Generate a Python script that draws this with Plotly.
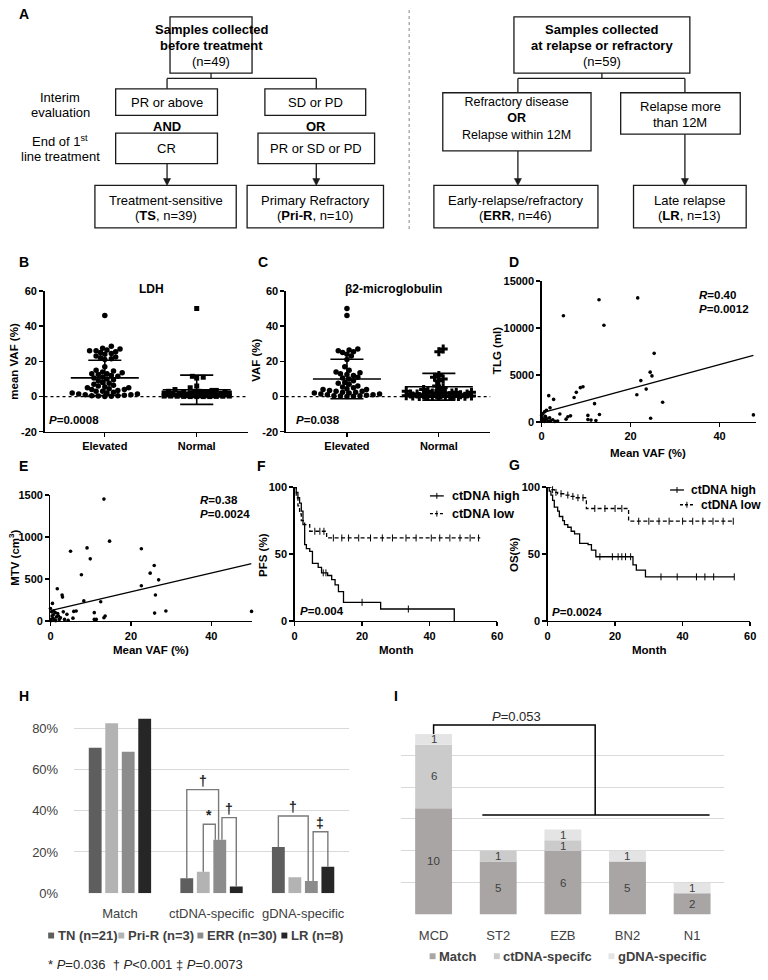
import plotly.graph_objects as go

W, H = 768, 980
FONT = "Liberation Sans, Arial, sans-serif"


def X(px):
    return px / W


def Y(py):
    return 1 - py / H


# ======================= DATA =======================
# Panel B : LDH
b_categories = ["Elevated", "Normal"]
b_elevated = [46, 28.5, 27.5, 27, 26.5, 26, 26, 25.5, 25, 24.5, 24, 23, 22.5, 22, 21.5, 21,
              17, 15, 14.5, 14, 13.5, 13, 13, 12.5, 12, 11.5, 11, 10.5, 10, 9.5, 9, 8, 7.5,
              7, 6.5, 6, 5.5, 5, 5, 4.5, 4, 4, 3.5, 3, 3, 2.5, 2, 2, 1.5, 1.5, 1, 1, 0.8,
              0.5, 0.5, 0.3, 0.2, 0.1]
b_normal = [50, 11.5, 11, 10.5, 6, 5, 4, 3.5, 3.5, 3, 3, 3, 2.8, 2.5, 2.5, 2.5, 2.2, 2, 2, 2,
            2, 1.8, 1.5, 1.5, 1.5, 1.5, 1.2, 1, 1, 1, 1, 1, 0.8, 0.8, 0.5, 0.5, 0.5, 0.5,
            0.5, 0.3, 0.3, 0.3, 0.2, 0.2, 0.1, 0.1, 0, 0, 0, 0]
b_mean = [10.6, 3.9]
b_sd = [10.0, 8.3]

# Panel C : beta2-microglobulin
c_categories = ["Elevated", "Normal"]
c_elevated = [50, 46, 27, 26.5, 26, 25.5, 25, 24, 23, 21, 17, 15, 14, 13.5, 13, 12.5, 12, 11,
              10.5, 10, 9, 8, 7.5, 7, 6, 5.5, 5, 4.5, 4, 4, 3.5, 3, 3, 2.5, 2.5, 2, 2, 1.5,
              1.5, 1, 1, 0.8, 0.5, 0.5, 0.3, 0.2, 0]
c_normal = [27, 25.5, 12, 11, 10, 9, 6, 5, 4, 3.5, 3, 3, 2.5, 2.5, 2, 2, 2, 1.5, 1.5, 1.5,
            1, 1, 1, 1, 0.8, 0.5, 0.5, 0.5, 0.3, 0.3, 0.2, 0.1, 0, 0, 0, 0, 0, 0]
c_mean = [10.0, 5.6]
c_sd = [11.2, 7.6]

# Panel D : TLG vs mean VAF
d_vaf = [4.9, 12.9, 21.6, 14.0, 25.3, 24.4, 24.8, 22.3, 23.5, 21.4, 27.2, 24.5, 47.6, 9.3,
         8.7, 7.8, 7.3, 1.6, 2.7, 1.9, 1.1, 0.7, 11.9, 4.1, 5.9, 5.5, 10.4, 13.0, 10.4, 11.1,
         12.2, 3.6, 2.5, 0.9, 0.2, 0.4, 0.6, 0.8, 1.0, 1.5, 0.3, 0.1, 0.5, 1.2, 2.0, 3.0,
         0.0, 0.0, 1.8, 6.5]
d_tlg = [11300, 13000, 13200, 10300, 7300, 5300, 4900, 4400, 3500, 2900, 2100, 400, 750,
         3750, 3650, 3150, 2600, 2800, 2400, 1500, 1250, 1100, 1950, 850, 550, 300, 700,
         800, 250, 200, 150, 100, 230, 560, 100, 300, 50, 600, 200, 80, 900, 400, 150, 350,
         120, 60, 200, 700, 450, 650]
d_fit_x = [0, 47.6]
d_fit_y = [970, 7080]
d_yticks = [0, 5000, 10000, 15000]

# Panel E : MTV vs mean VAF
e_vaf = [13.3, 14.7, 5.0, 9.1, 9.9, 22.6, 7.7, 25.8, 24.8, 26.9, 22.6, 26.1, 8.3, 12.5, 1.7,
         2.9, 3.0, 0.5, 25.9, 28.7, 50.0, 10.9, 13.6, 13.3, 10.9, 11.4, 5.8, 4.1, 3.2, 5.6,
         4.4, 2.5, 0.3, 0.8, 1.2, 1.5, 0.2, 0.6, 1.0, 2.0, 3.5, 0.1, 0.4, 0.9, 1.8, 6.4, 0.0,
         2.2, 1.3, 0.7]
e_mtv = [1450, 950, 830, 870, 740, 860, 550, 660, 570, 490, 420, 310, 240, 230, 385, 310,
         285, 210, 95, 120, 115, 100, 60, 40, 20, 20, 115, 80, 110, 35, 10, 40, 110, 120,
         100, 50, 20, 30, 10, 60, 20, 5, 60, 25, 90, 120, 150, 20, 5, 75]
e_fit_x = [0, 50]
e_fit_y = [124, 684]
e_yticks = [0, 500, 1000, 1500]

# Panel F : PFS
f_high_t = [0, 0.5, 1, 1.5, 2, 2.5, 3, 3.5, 4.5, 5.3, 7, 8, 9.8, 11, 12, 13, 14.5, 25.5, 47.3]
f_high_s = [100, 96, 92, 88, 82, 72, 57, 54, 52, 43, 40, 36, 34, 31, 27, 22, 14, 9, 0]
f_high_cens = [8.5, 9.3, 20, 33.7]
f_low_t = [0, 0.5, 1, 1.5, 2, 3, 4.5, 9.5, 55]
f_low_s = [100, 92, 86, 80, 75, 72, 67, 62, 62]
f_low_cens = [6, 7.5, 8.7, 11.5, 14, 16, 19, 22.5, 26, 29, 33, 36, 40.5, 43, 46, 49, 52, 54.5]

# Panel G : OS
g_high_t = [0, 0.5, 1, 1.5, 2, 3, 3.5, 4.5, 5, 6, 7, 8, 9.5, 12, 13, 14.3, 25.3, 26.3, 29, 55.3]
g_high_s = [100, 97, 94, 90, 85, 82, 78, 75, 72, 70, 67, 65, 58, 57, 53, 48, 42, 38, 33, 33]
g_high_cens = [15.5, 19.2, 20.9, 22, 23.1, 24.6, 33.6, 38.4, 44.1, 46.6, 49.2, 55.3]
g_low_t = [0, 1, 2, 3, 5, 7, 8.5, 11.5, 24, 55.3]
g_low_s = [100, 98, 96, 95, 94, 93, 92, 84, 74.5, 74.5]
g_low_cens = [1.5, 2.5, 4, 6, 7.5, 9, 10.5, 14, 17, 20, 22, 27, 30, 33, 36, 40, 43, 46, 49,
              52, 55]

# Panel H : mutation concordance by group
h_categories = ["Match", "ctDNA-specific", "gDNA-specific"]
h_series = ["TN (n=21)", "Pri-R (n=3)", "ERR (n=30)", "LR (n=8)"]
h_tn = [0.707, 0.072, 0.224]
h_prir = [0.826, 0.104, 0.077]
h_err = [0.687, 0.259, 0.059]
h_lr = [0.847, 0.032, 0.128]
h_ticks = [0, 0.2, 0.4, 0.6, 0.8]
h_footnote = "* <i>P</i>=0.036  † <i>P</i><0.001 ‡ <i>P</i>=0.0073"

# Panel I : LymphGen subtypes
i_categories = ["MCD", "ST2", "EZB", "BN2", "N1"]
i_series = ["Match", "ctDNA-specifc", "gDNA-specific"]
i_match = [10, 5, 6, 5, 2]
i_ctdna = [6, 1, 1, 0, 0]
i_gdna = [1, 0, 1, 1, 1]
i_pvalue = "<i>P</i>=0.053"

# ======================= STYLE =======================
shapes = []
annotations = []
LINE = "#1a1a1a"


def ann(px, py, text, size=13, bold=False, xanchor="center", color="black", angle=0):
    if bold:
        text = "<b>" + text + "</b>"
    annotations.append(dict(x=X(px), y=Y(py), xref="paper", yref="paper", text=text,
                            showarrow=False, xanchor=xanchor, yanchor="middle",
                            textangle=angle, borderpad=0,
                            font=dict(family=FONT, size=size, color=color)))


def pline(x0, y0, x1, y1, color=LINE, width=1.3, dash=None):
    d = dict(type="line", xref="paper", yref="paper", x0=X(x0), y0=Y(y0), x1=X(x1), y1=Y(y1),
             line=dict(color=color, width=width))
    if dash:
        d["line"]["dash"] = dash
    shapes.append(d)


def prect(x0, y0, x1, y1, line_color=LINE, fill=None, width=1.3):
    d = dict(type="rect", xref="paper", yref="paper", x0=X(x0), y0=Y(y1), x1=X(x1), y1=Y(y0),
             line=dict(color=line_color, width=width))
    if fill:
        d["fillcolor"] = fill
    shapes.append(d)


def parrow(x, y0, y1):
    pline(x, y0, x, y1 - 6)
    shapes.append(dict(type="path", xref="paper", yref="paper",
                       path=f"M {X(x-3.6)},{Y(y1-7)} L {X(x+3.6)},{Y(y1-7)} L {X(x)},{Y(y1)} Z",
                       fillcolor=LINE, line=dict(color=LINE, width=0.5)))


# ----------------- Panel A (flowchart) -----------------
ann(21, 8, "A", size=14, bold=True)
prect(169, 11, 252, 68)
ann(210.5, 24, "Samples collected", bold=True)
ann(210.5, 40, "before treatment", bold=True)
ann(210.5, 56, "(n=49)")
pline(210.5, 68, 210.5, 73.5)
pline(166, 73.5, 317, 73.5)
pline(166, 73.5, 166, 84)
pline(317, 73.5, 317, 84)
prect(114, 84, 217, 111)
ann(165.5, 97.5, "PR or above")
prect(265, 84, 367, 111)
ann(316, 97.5, "SD or PD")
ann(166, 122, "AND", bold=True)
ann(317, 122, "OR", bold=True)
prect(114, 129, 217, 160)
ann(165.5, 144.5, "CR")
prect(258, 129, 376, 160)
ann(317, 144.5, "PR or SD or PD")
parrow(166, 160, 182)
parrow(317, 160, 182)
prect(93, 182, 236, 225)
ann(164.5, 197, "Treatment-sensitive")
ann(164.5, 213, "(<b>TS</b>, n=39)")
prect(247, 182, 385, 225)
ann(316, 197, "Primary Refractory")
ann(316, 213, "(<b>Pri-R</b>, n=10)")
ann(58, 93, "Interim")
ann(58, 108, "evaluation")
ann(58, 137, "End of 1<sup>st</sup>")
ann(58, 153, "line treatment")
pline(411, 4, 411, 228, color="#9a9a9a", width=1.2, dash="dot")
prect(517, 11, 695, 68)
ann(606, 24, "Samples collected", bold=True)
ann(606, 40, "at relapse or refractory", bold=True)
ann(606, 56, "(n=59)")
pline(606, 68, 606, 73.5)
pline(521, 73.5, 690, 73.5)
pline(521, 73.5, 521, 88)
pline(690, 73.5, 690, 88)
prect(445, 88, 595, 147)
ann(520, 114.5, "Refractory disease<br><b>OR</b><br>Relapse within 12M", size=12.5)
prect(625, 88, 746, 130)
ann(685.5, 102.3, "Relapse more")
ann(685.5, 118.3, "than 12M")
parrow(521, 147, 182)
parrow(690, 130, 182)
prect(436, 182, 602, 225)
ann(519, 197, "Early-relapse/refractory")
ann(519, 213, "(<b>ERR</b>, n=46)")
prect(638, 182, 752, 225)
ann(695, 197, "Late relapse")
ann(695, 213, "(<b>LR</b>, n=13)")


# ----------------- helpers for GraphPad-style axes -----------------
def gp_axis(px0, px1, rng, tickvals, anchor, ticktext=None, vertical=False):
    dom = [Y(px0), Y(px1)] if vertical else [X(px0), X(px1)]
    d = dict(domain=dom, range=rng, tickvals=tickvals, showline=True, linecolor="black",
             linewidth=1.3, ticks="outside", ticklen=4, tickwidth=1.3, tickcolor="black",
             showgrid=False, zeroline=False, anchor=anchor, fixedrange=True,
             tickfont=dict(family=FONT, size=11, color="black", weight="bold"))
    d["ticktext"] = ticktext if ticktext is not None else [str(v) for v in tickvals]
    return d


def swarm(vals, ppu_y, ppu_x, diam, step, cap):
    placed = []
    offs = []
    for v in vals:
        yp = v * ppu_y
        best = None
        bestscore = -1
        k = 0
        while True:
            o = ((k + 1) // 2) * step * (1 if k % 2 else -1)
            if abs(o) > cap:
                break
            md = min([((o - a) ** 2 + (yp - b) ** 2) ** 0.5 for a, b in placed] or [1e9])
            if md >= diam:
                best = o
                break
            if md > bestscore:
                bestscore = md
                best = o
            k += 1
        placed.append((best, yp))
        offs.append(best / ppu_x)
    return offs


fig = go.Figure()

PPU_X_BC = 93.0
PPU_Y_BC = 143.0 / 80.0
MEAN_HW = 0.37
CAP_HW = 0.18


def dot_panel(xa, ya, elev, norm, means, sds, sym_norm, size_norm):
    for ci, (vals, sym, sz) in enumerate([(elev, "circle", 5.5), (norm, sym_norm, size_norm)]):
        vs = sorted(vals)
        offs = swarm(vs, PPU_Y_BC, PPU_X_BC, 4.6, 2.2, 33)
        fig.add_trace(go.Scatter(x=[ci + o for o in offs], y=vs, mode="markers", xaxis=xa,
                                 yaxis=ya, cliponaxis=False,
                                 marker=dict(symbol=sym, size=sz, color="black",
                                             line=dict(width=0)), hoverinfo="skip"))
    for ci in range(2):
        m, s = means[ci], sds[ci]
        xs = [ci - MEAN_HW, ci + MEAN_HW, None, ci - CAP_HW, ci + CAP_HW, None,
              ci - CAP_HW, ci + CAP_HW, None, ci, ci]
        ys = [m, m, None, m + s, m + s, None, m - s, m - s, None, m - s, m + s]
        fig.add_trace(go.Scatter(x=xs, y=ys, mode="lines", xaxis=xa, yaxis=ya,
                                 cliponaxis=False, line=dict(color="black", width=1.6),
                                 hoverinfo="skip"))


dot_panel("x", "y", b_elevated, b_normal, b_mean, b_sd, "square", 5)
dot_panel("x2", "y2", c_elevated, c_normal, c_mean, c_sd, "cross", 7.5)

for xr, yr in [("x domain", "y"), ("x2 domain", "y2")]:
    shapes.append(dict(type="line", xref=xr, yref=yr, x0=0, x1=1, y0=0, y1=0,
                       line=dict(color="black", width=1.3, dash="dot")))

ann(21, 260, "B", size=14, bold=True)
ann(150, 287, "LDH", size=12, bold=True)
ann(11, 360, "mean VAF (%)", size=11.5, bold=True, angle=-90)
ann(46, 420, "<i>P</i>=0.0008", size=11.5, bold=True, xanchor="left")
ann(263, 260, "C", size=14, bold=True)
ann(395, 287, "β2-microglobulin", size=12, bold=True)
ann(256, 360, "VAF (%)", size=11.5, bold=True, angle=-90)
ann(295, 420, "<i>P</i>=0.038", size=11.5, bold=True, xanchor="left")

# ----------------- Panel D -----------------
fig.add_trace(go.Scatter(x=d_vaf, y=d_tlg, mode="markers", xaxis="x3", yaxis="y3",
                         cliponaxis=False, marker=dict(size=3.6, color="black"),
                         hoverinfo="skip"))
fig.add_trace(go.Scatter(x=d_fit_x, y=d_fit_y, mode="lines", xaxis="x3", yaxis="y3",
                         line=dict(color="black", width=1.3), hoverinfo="skip"))
ann(517.5, 260, "D", size=14, bold=True)
ann(500, 350, "TLG (ml)", size=11.5, bold=True, angle=-90)
ann(653, 453, "Mean VAF (%)", size=11.5, bold=True)
ann(703, 293, "<i>R</i>=0.40", size=11.5, bold=True, xanchor="left")
ann(703, 307, "<i>P</i>=0.0012", size=11.5, bold=True, xanchor="left")

# ----------------- Panel E -----------------
fig.add_trace(go.Scatter(x=e_vaf, y=e_mtv, mode="markers", xaxis="x4", yaxis="y4",
                         cliponaxis=False, marker=dict(size=3.6, color="black"),
                         hoverinfo="skip"))
fig.add_trace(go.Scatter(x=e_fit_x, y=e_fit_y, mode="lines", xaxis="x4", yaxis="y4",
                         line=dict(color="black", width=1.3), hoverinfo="skip"))
ann(20.5, 467, "E", size=14, bold=True)
ann(11, 560, "MTV (cm<sup>3</sup>)", size=11.5, bold=True, angle=-90)
ann(150, 653, "Mean VAF (%)", size=11.5, bold=True)
ann(198, 501, "<i>R</i>=0.38", size=11.5, bold=True, xanchor="left")
ann(198, 515, "<i>P</i>=0.0024", size=11.5, bold=True, xanchor="left")


# ----------------- Panels F & G (Kaplan-Meier) -----------------
def step_val(ts, ss, t):
    v = ss[0]
    for ti, si in zip(ts, ss):
        if ti <= t:
            v = si
    return v


def km(xa, ya, t, s, cens, dash):
    ln = dict(color="black", width=1.3)
    if dash:
        ln["dash"] = "4px,2.5px"
    fig.add_trace(go.Scatter(x=t, y=s, mode="lines", line_shape="hv", line=ln, xaxis=xa,
                             yaxis=ya, cliponaxis=False, hoverinfo="skip"))
    fig.add_trace(go.Scatter(x=cens, y=[step_val(t, s, c) for c in cens], mode="markers",
                             xaxis=xa, yaxis=ya, cliponaxis=False, hoverinfo="skip",
                             marker=dict(symbol="line-ns", size=5,
                                         line=dict(color="black", width=1))))


km("x5", "y5", f_high_t, f_high_s, f_high_cens, False)
km("x5", "y5", f_low_t, f_low_s, f_low_cens, True)
km("x6", "y6", g_high_t, g_high_s, g_high_cens, False)
km("x6", "y6", g_low_t, g_low_s, g_low_cens, True)


def km_legend(gx, gy, tx, label, dash, size=12.5):
    pline(gx, gy, gx + 14, gy, color="black", width=1.3, dash="3px,2px" if dash else None)
    pline(gx + 7, gy - 3, gx + 7, gy + 3, color="black", width=1)
    ann(tx, gy, label, size=size, bold=True, xanchor="left")


ann(262, 467, "F", size=14, bold=True)
ann(263, 557, "PFS (%)", size=11.5, bold=True, angle=-90)
ann(397.5, 653, "Month", size=11.5, bold=True)
ann(300, 614, "<i>P</i>=0.004", size=11.5, bold=True, xanchor="left")
km_legend(432, 497, 453, "ctDNA high", False)
km_legend(432, 515, 453, "ctDNA low", True)

ann(518, 466, "G", size=14, bold=True)
ann(517, 556, "OS(%)", size=11.5, bold=True, angle=-90)
ann(653.5, 653, "Month", size=11.5, bold=True)
ann(555, 615, "<i>P</i>=0.0024", size=11.5, bold=True, xanchor="left")
km_legend(675, 491, 695, "ctDNA high", False, size=12)
km_legend(685, 506, 705, "ctDNA low", True, size=12)

# ----------------- Panel H -----------------
H_COLORS = ["#5e5e5e", "#b3b3b3", "#8c8c8c", "#262626"]
H_BAR_W = 13.0 / 92.7
H_BAR_STEP = 16.7 / 92.7
h_values = [h_tn, h_prir, h_err, h_lr]
for k, (name, vals) in enumerate(zip(h_series, h_values)):
    center = (k - 1.5) * H_BAR_STEP
    fig.add_trace(go.Bar(x=[0, 1, 2], y=vals, width=H_BAR_W, offset=center - H_BAR_W / 2,
                         marker=dict(color=H_COLORS[k], line=dict(width=0)), name=name,
                         xaxis="x7", yaxis="y7", hoverinfo="skip"))

h_brackets = [(1, 0, 0, 2, -1.2, 0.503, "†"),
              (1, 1, 0, 2, -4.5, 0.335, "*"),
              (1, 2, 2.2, 3, 0, 0.367, "†"),
              (2, 0, 0, 2, -3.2, 0.375, "†"),
              (2, 2, 1.8, 3, 0, 0.298, "‡")]
for g, ba, na, bb, nb, top, sym in h_brackets:
    xa = g + (ba - 1.5) * H_BAR_STEP + na / 92.7
    xb = g + (bb - 1.5) * H_BAR_STEP + nb / 92.7
    ya = h_values[ba][g]
    yb = h_values[bb][g]
    shapes.append(dict(type="path", xref="x7", yref="y7",
                       path=f"M {xa},{ya} L {xa},{top} L {xb},{top} L {xb},{yb}",
                       line=dict(color="#7a7a7a", width=1.4)))
    annotations.append(dict(x=(xa + xb) / 2, y=top, xref="x7", yref="y7",
                            text="<b>" + sym + "</b>",
                            showarrow=False, yanchor="bottom", yshift=-1,
                            font=dict(family="Liberation Sans", size=14, color="#222222")))

ann(21.5, 700, "H", size=14, bold=True)
h_leg_x = [45.7, 116.7, 196.7, 281.7]
for k, name in enumerate(h_series):
    prect(h_leg_x[k], 940, h_leg_x[k] + 6, 946, line_color=H_COLORS[k], fill=H_COLORS[k],
          width=0)
    ann(h_leg_x[k] + 8.5, 943, name, size=13, bold=True, xanchor="left", color="#404040")
ann(45, 972, h_footnote, size=13, xanchor="left", color="#262626")

# ----------------- Panel I -----------------
I_COLORS = ["#a9a5a5", "#cbcbcb", "#e4e4e4"]
I_BAR_W = 37.3 / 65.4
i_values = [i_match, i_ctdna, i_gdna]
base = [0] * len(i_categories)
for k, (name, vals) in enumerate(zip(i_series, i_values)):
    fig.add_trace(go.Bar(x=list(range(len(i_categories))), y=vals, base=list(base),
                         width=I_BAR_W, marker=dict(color=I_COLORS[k], line=dict(width=0)),
                         name=name, xaxis="x8", yaxis="y8", hoverinfo="skip"))
    for ci, v in enumerate(vals):
        if v > 0:
            annotations.append(dict(x=ci, y=base[ci] + v / 2, xref="x8", yref="y8",
                                    text=str(v), showarrow=False, borderpad=0,
                                    font=dict(family=FONT, size=11.5, color="#404040")))
    base = [b + v for b, v in zip(base, vals)]

i_totals = base
BR_TOP = 17.86
BR_LOW = 9.38
shapes.append(dict(type="path", xref="x8", yref="y8",
                   path=f"M 0,{i_totals[0]} L 0,{BR_TOP} L 2.5,{BR_TOP} L 2.5,{BR_LOW}",
                   line=dict(color="black", width=1.5)))
shapes.append(dict(type="line", xref="x8", yref="y8", x0=0.754, x1=4.27, y0=BR_LOW,
                   y1=BR_LOW, line=dict(color="black", width=1.5)))
ann(520, 721, i_pvalue, size=13, color="#262626")

ann(398, 700, "I", size=14, bold=True)
i_leg_x = [431.7, 496.7, 612.7]
for k, name in enumerate(i_series):
    prect(i_leg_x[k], 961, i_leg_x[k] + 6, 967, line_color=I_COLORS[k], fill=I_COLORS[k],
          width=0)
    ann(i_leg_x[k] + 8.5, 964, name, size=13, bold=True, xanchor="left", color="#404040")

# ======================= LAYOUT =======================
excel_font = dict(family=FONT, size=13, color="#404040")
layout = dict(
    width=W, height=H, margin=dict(l=0, r=0, t=0, b=0), paper_bgcolor="white",
    plot_bgcolor="white", showlegend=False, barmode="overlay",
    xaxis=gp_axis(42, 248, [-0.656, 1.559], [0, 1], "y", b_categories),
    yaxis=gp_axis(432, 289, [-20, 60], [-20, 0, 20, 40, 60], "x", vertical=True),
    xaxis2=gp_axis(286, 493, [-0.667, 1.559], [0, 1], "y2", c_categories),
    yaxis2=gp_axis(432, 289, [-20, 60], [-20, 0, 20, 40, 60], "x2", vertical=True),
    xaxis3=gp_axis(545, 762, [0, 48.2], [0, 20, 40], "y3"),
    yaxis3=gp_axis(422, 279, [0, 15000], d_yticks, "x3", vertical=True),
    xaxis4=gp_axis(48, 251.5, [0, 50], [0, 20, 40], "y4"),
    yaxis4=gp_axis(624, 496, [0, 1500], e_yticks, "x4", vertical=True),
    xaxis5=gp_axis(295, 500, [0, 60], [0, 20, 40, 60], "y5"),
    yaxis5=gp_axis(624, 488, [0, 100], [0, 50, 100], "x5", vertical=True),
    xaxis6=gp_axis(551, 756, [0, 60], [0, 20, 40, 60], "y6"),
    yaxis6=gp_axis(624, 488, [0, 100], [0, 50, 100], "x6", vertical=True),
    xaxis7=dict(domain=[X(72), X(350)], range=[-0.5, 2.5], tickvals=[0, 1, 2],
                ticktext=h_categories, showline=False, showgrid=False, zeroline=False,
                ticks="", tickfont=excel_font, anchor="y7", fixedrange=True,
                ticklabelstandoff=11),
    yaxis7=dict(domain=[Y(900), Y(900 - 0.9 * 208.75)], range=[0, 0.9], tickvals=h_ticks,
                tickformat=".0%", showline=False, showgrid=True, gridcolor="#d9d9d9",
                gridwidth=1, zeroline=False, ticks="", tickfont=excel_font, anchor="x7",
                fixedrange=True, ticklabelstandoff=15),
    xaxis8=dict(domain=[X(403), X(730)], range=[-0.5, 4.5], tickvals=list(range(5)),
                ticktext=i_categories, showline=False, showgrid=False, zeroline=False,
                ticks="", tickfont=excel_font, anchor="y8", fixedrange=True,
                ticklabelstandoff=11),
    yaxis8=dict(domain=[Y(921.7), Y(727.8)], range=[0, 18], tickvals=[0, 3, 6, 9, 12, 15, 18],
                showticklabels=False, showline=False, showgrid=True, gridcolor="#d9d9d9",
                gridwidth=1, zeroline=False, ticks="", anchor="x8", fixedrange=True),
    shapes=shapes, annotations=annotations,
)
fig.update_layout(**layout)
fig.write_html("out.html", config={"displayModeBar": False, "staticPlot": True},
               post_script="document.body.style.margin='0';document.body.style.overflow='hidden';")
